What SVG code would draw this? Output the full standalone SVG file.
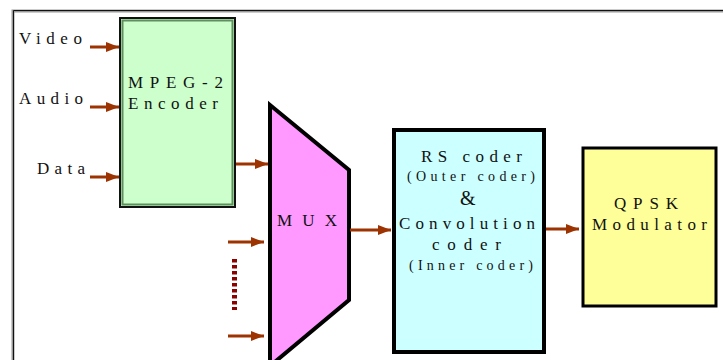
<svg xmlns="http://www.w3.org/2000/svg" width="723" height="360" viewBox="0 0 723 360">
<style>
.t{font-family:"Liberation Serif","Times New Roman",serif;font-size:17px;fill:#111}
.s{font-size:14px}
.a{stroke:#9c3300;stroke-width:3;fill:none}
</style>
<defs>
<marker id="ah" markerUnits="userSpaceOnUse" markerWidth="14" markerHeight="12" refX="13" refY="6" orient="auto">
<path d="M0,1 L13,6 L0,11 Z" fill="#9c3300"/>
</marker>
</defs>
<rect width="723" height="360" fill="#fff"/>
<g id="frame">
<path d="M13,370 V11 H730" fill="none" stroke="#999" stroke-width="3"/>
<path d="M13.5,370 V10.5 H730" fill="none" stroke="#111" stroke-width="1"/>
</g>
<g id="inputs">
<text class="t" x="19" y="44" textLength="63" lengthAdjust="spacing">Video</text>
<text class="t" x="19" y="104" textLength="64" lengthAdjust="spacing">Audio</text>
<text class="t" x="37" y="174" textLength="48" lengthAdjust="spacing">Data</text>
</g>
<g id="encoder">
<rect x="120" y="18" width="115" height="189" fill="#ccffcc" stroke="#111" stroke-width="2"/>
<rect x="122.5" y="20.5" width="110" height="184" fill="none" stroke="#5f8f5f" stroke-width="2"/>
<text class="t" x="128" y="88" textLength="95" lengthAdjust="spacing">MPEG-2</text>
<text class="t" x="128" y="109" textLength="90" lengthAdjust="spacing">Encoder</text>
</g>
<g id="mux">
<path d="M270,105 L349,170 L349,300 L270,366 Z" fill="#ff99ff" stroke="#000" stroke-width="4" stroke-linejoin="miter"/>
<text class="t" x="277" y="226" textLength="60" lengthAdjust="spacing">MUX</text>
</g>
<g id="rscoder">
<rect x="394" y="130" width="150" height="222" fill="#ccffff" stroke="#000" stroke-width="4"/>
<text class="t" x="421" y="162" textLength="101" lengthAdjust="spacing">RS coder</text>
<text class="t s" x="407" y="181" textLength="128" lengthAdjust="spacing">(Outer coder)</text>
<text class="t" x="460" y="205" style="font-size:20px">&amp;</text>
<text class="t" x="399" y="229" textLength="136" lengthAdjust="spacing">Convolution</text>
<text class="t" x="432" y="250" textLength="69" lengthAdjust="spacing">coder</text>
<text class="t s" x="409" y="270" textLength="124" lengthAdjust="spacing">(Inner coder)</text>
</g>
<g id="qpsk">
<rect x="583" y="148" width="133" height="158" fill="#ffff99" stroke="#000" stroke-width="3"/>
<text class="t" x="614" y="209" textLength="64" lengthAdjust="spacing">QPSK</text>
<text class="t" x="592" y="230" textLength="115" lengthAdjust="spacing">Modulator</text>
</g>
<g id="connectors">
<line class="a" x1="90" y1="47" x2="119" y2="47" marker-end="url(#ah)"/>
<line class="a" x1="90" y1="107" x2="119" y2="107" marker-end="url(#ah)"/>
<line class="a" x1="90" y1="177" x2="119" y2="177" marker-end="url(#ah)"/>
<line class="a" x1="236" y1="164" x2="268" y2="164" marker-end="url(#ah)"/>
<line class="a" x1="228" y1="242" x2="264" y2="242" marker-end="url(#ah)"/>
<line class="a" x1="228" y1="336" x2="264" y2="336" marker-end="url(#ah)"/>
<line x1="234.5" y1="259" x2="234.5" y2="310" stroke="#8b0000" stroke-width="5" stroke-dasharray="3.5,2.5"/>
<line class="a" x1="350" y1="230" x2="391" y2="230" marker-end="url(#ah)"/>
<line class="a" x1="546" y1="229" x2="579" y2="229" marker-end="url(#ah)"/>
</g>
</svg>
